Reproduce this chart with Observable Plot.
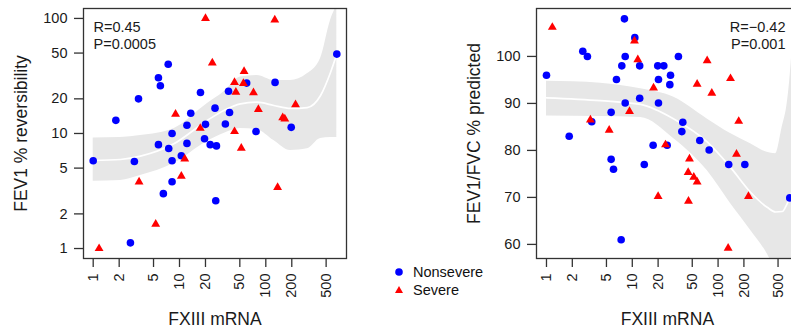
<!DOCTYPE html>
<html>
<head>
<meta charset="utf-8">
<script src="https://cdn.jsdelivr.net/npm/d3@7"></script>
<script src="https://cdn.jsdelivr.net/npm/@observablehq/plot@0.6"></script>
<style>
  html, body { margin: 0; padding: 0; background: #fff; }
  #wrap { position: relative; width: 791px; height: 333px; overflow: hidden; background: #fff;
          font-family: "Liberation Sans", Arial, Helvetica, sans-serif; }
  #wrap svg { max-width: none !important; }
  .lg { position: absolute; font-size: 14.5px; line-height: 18px; color: #111; white-space: nowrap; }
</style>
</head>
<body>
<div id="wrap"></div>
<script>
// ---------- tick labels ----------
const xTicks = [1, 2, 5, 10, 20, 50, 100, 200, 500];
const leftYTicks = [1, 2, 5, 10, 20, 50, 100];
const rightYTicks = [60, 70, 80, 90, 100];
const xLabel = "FXIII mRNA";
const leftYLabel = "FEV1 % reversibility";
const rightYLabel = "FEV1/FVC % predicted";
const leftStat = "R=0.45\nP=0.0005";
const rightStat = "R=\u22120.42\nP=0.001";
const legendLabels = ["Nonsevere", "Severe"];

// ---------- left panel: FEV1 % reversibility ----------
const leftNonX = [1.0, 3.0, 1.83, 3.35, 7.4, 5.7, 6.0, 17.5, 13.5, 12.2, 8.2, 5.7, 7.5, 12.2, 10.5, 8.2, 8.2, 6.5, 2.7, 20, 19.5, 22.7, 26.8, 25.8, 26.3, 37, 60, 38, 34, 77, 128, 197, 665];
const leftNonY = [5.8, 5.7, 13, 20, 40, 30.5, 26, 22.7, 15, 11.8, 10, 8, 7.4, 8.2, 6.4, 5.8, 3.8, 3.0, 1.12, 12, 9.0, 8.0, 7.8, 16.6, 2.6, 23.3, 27.4, 15.2, 12.1, 10.4, 27.8, 11.3, 49];
const leftSevX = [20, 24, 9, 17.4, 11.5, 10.5, 3.4, 5.3, 1.17, 127, 56, 43.4, 55, 45, 72, 82, 221, 157, 166, 43.4, 52, 137];
const leftSevY = [100, 41, 14.7, 11.1, 6.0, 4.25, 3.8, 1.63, 1.0, 97, 34.6, 27.8, 27.2, 22.9, 22.6, 16.2, 17.8, 13.7, 13.4, 10.4, 7.45, 3.4];
// loess fit and confidence band
const leftBandX   = [1.0, 2.07, 3.53, 8.59, 20.9, 32.6, 50.9, 79.4, 124, 193, 302, 431, 562, 665];
const leftBandLo  = [3.85, 3.90, 4.31, 5.48, 8.52, 10.0, 11.05, 10.8, 8.69, 7.11, 7.36, 9.05, 9.23, 9.23];
const leftBandFit = [5.82, 5.94, 6.35, 8.13, 12.97, 15.85, 18.1, 18.7, 17.5, 16.5, 16.8, 21.4, 33.9, 49];
const leftBandHi  = [9.14, 9.23, 9.6, 11.0, 18.1, 22.9, 30.9, 31.9, 28.9, 28.9, 33.0, 44.9, 96, 130];

// ---------- right panel: FEV1/FVC % predicted ----------
const rightNonX = [1.0, 1.84, 2.65, 3.0, 8.1, 10.7, 8.27, 7.55, 12.2, 6.54, 19.8, 23.3, 20.2, 12.2, 8.27, 20.2, 5.67, 3.37, 17.5, 5.67, 6.04, 13.8, 7.42, 34.5, 27.9, 27.4, 38.8, 37.8, 25.5, 61.2, 78.7, 133, 205, 685];
const rightNonY = [96.0, 83.0, 101.1, 100, 108, 104, 100, 98, 98, 95.1, 98, 98, 95.1, 91.1, 90.1, 90.1, 88.1, 86.1, 81.1, 78.1, 76.0, 77.0, 61.0, 100, 96, 94, 86, 84, 81.1, 82.1, 80.1, 77, 77, 69.9];
const rightSevX = [1.17, 10.6, 11.6, 17.7, 9.28, 5.38, 3.25, 20, 74.6, 57, 139.6, 84.5, 174, 24.4, 164, 46.4, 44.8, 52.1, 57, 45.2, 226, 131];
const rightSevY = [106.2, 103.3, 99.3, 93.3, 88.3, 84.3, 86.5, 70.2, 99.1, 94.1, 95.3, 92.2, 86.2, 81.2, 79.2, 78.2, 75.3, 74.3, 73.3, 69.2, 70.2, 59.2];
const rightBandX   = [1.0, 4.26, 12.5, 30.5, 74.6, 139.6, 239, 373, 467, 559, 639, 685, 720];
const rightBandLo  = [87.3, 87.2, 87.0, 82.5, 75.7, 68.7, 63.0, 58.0, 54.5, 51.3, 48, 46, 45];
const rightBandFit = [91.2, 90.6, 89.8, 86.7, 81.8, 76.4, 71.1, 67.9, 66.9, 67.0, 68.7, 69.9, 71];
const rightBandHi  = [94.7, 94.3, 93.1, 91.3, 86.7, 83.6, 81.4, 79.6, 79.3, 85.0, 90, 95, 100];

const FONT = "'Liberation Sans', Arial, Helvetica, sans-serif";
const zip = (xs, ys) => xs.map((x, i) => ({x, y: ys[i]}));
const bandOf = (xs, lo, fit, hi) => xs.map((x, i) => ({x, lo: lo[i], fit: fit[i], hi: hi[i]}));

function panel(o) {
  const svg = Plot.plot({
    width: o.width, height: 333,
    marginTop: 8, marginBottom: 75, marginLeft: o.marginLeft, marginRight: o.marginRight,
    style: {fontFamily: FONT, fontSize: "14.5px", color: "#1a1a1a", background: "transparent", overflow: "visible"},
    x: {type: "log", domain: o.xDomain},
    y: o.y,
    marks: [
      Plot.areaY(o.band, {x: "x", y1: "lo", y2: "hi", fill: "#e7e7e7", curve: "monotone-x", clip: true}),
      Plot.lineY(o.band, {x: "x", y: "fit", stroke: "#ffffff", strokeWidth: 1.7, curve: "monotone-x", clip: true}),
      Plot.dot(o.non, {x: "x", y: "y", r: 3.8, fill: "#0000ff", symbol: "circle"}),
      Plot.dot(o.sev, {x: "x", y: "y", r: 3.3, fill: "#ff0000", symbol: "triangle"}),
      Plot.frame({stroke: "#333", strokeWidth: 1.3}),
      Plot.axisX({ticks: xTicks, text: d => String(d), tickRotate: -90, tickSize: 9, tickPadding: 6,
                  fontSize: 14.5, stroke: "#333", strokeWidth: 1.3, label: null}),
      Plot.axisY({ticks: o.yTicks, text: d => String(d), tickSize: 9, tickPadding: 7,
                  fontSize: 14.5, stroke: "#333", strokeWidth: 1.3, label: null}),
      Plot.text([xLabel], {text: d => d, frameAnchor: "bottom", dy: 61, fontSize: 17.5, lineAnchor: "middle", fill: "#1a1a1a"}),
      Plot.text([o.yLabel], {text: d => d, frameAnchor: "left", dx: -62, rotate: -90, fontSize: 17.5,
                             textAnchor: "middle", lineAnchor: "middle", fill: "#1a1a1a"}),
      Plot.text([o.stat], {text: d => d, frameAnchor: o.statAnchor, dx: o.statDx, dy: 10.7, lineAnchor: "top",
                           lineHeight: 1.22, textAnchor: o.statTextAnchor, fontSize: 14.5, fill: "#1a1a1a"})
    ]
  });
  svg.style.position = "absolute";
  svg.style.left = o.left + "px";
  svg.style.top = "0px";
  return svg;
}

const wrap = document.getElementById("wrap");

wrap.appendChild(panel({
  left: 0, width: 360, marginLeft: 83, marginRight: 14,
  xDomain: [0.772, 861],
  y: {type: "log", domain: [0.819, 122]},
  yTicks: leftYTicks,
  non: zip(leftNonX, leftNonY), sev: zip(leftSevX, leftSevY),
  band: bandOf(leftBandX, leftBandLo, leftBandFit, leftBandHi),
  yLabel: leftYLabel, stat: leftStat, statAnchor: "top-left", statDx: 10, statTextAnchor: "start"
}));

wrap.appendChild(panel({
  left: 420, width: 400, marginLeft: 116, marginRight: 22.2,
  xDomain: [0.765, 861],
  y: {type: "linear", domain: [57.0, 110.2]},
  yTicks: rightYTicks,
  non: zip(rightNonX, rightNonY), sev: zip(rightSevX, rightSevY),
  band: bandOf(rightBandX, rightBandLo, rightBandFit, rightBandHi),
  yLabel: rightYLabel, stat: rightStat, statAnchor: "top-right", statDx: -12.8, statTextAnchor: "end"
}));

// ---------- legend ----------
const symbols = [
  '<svg width="12" height="12" style="position:absolute;left:-20px;top:3px"><circle cx="6" cy="6" r="3.8" fill="#0000ff"/></svg>',
  '<svg width="12" height="12" style="position:absolute;left:-20px;top:3px"><path d="M6,2L10,9L2,9Z" fill="#ff0000"/></svg>'
];
legendLabels.forEach((lab, i) => {
  const div = document.createElement("div");
  div.className = "lg";
  div.style.left = "413px";
  div.style.top = (263 + i * 18) + "px";
  div.innerHTML = symbols[i] + lab;
  wrap.appendChild(div);
});
</script>
</body>
</html>
